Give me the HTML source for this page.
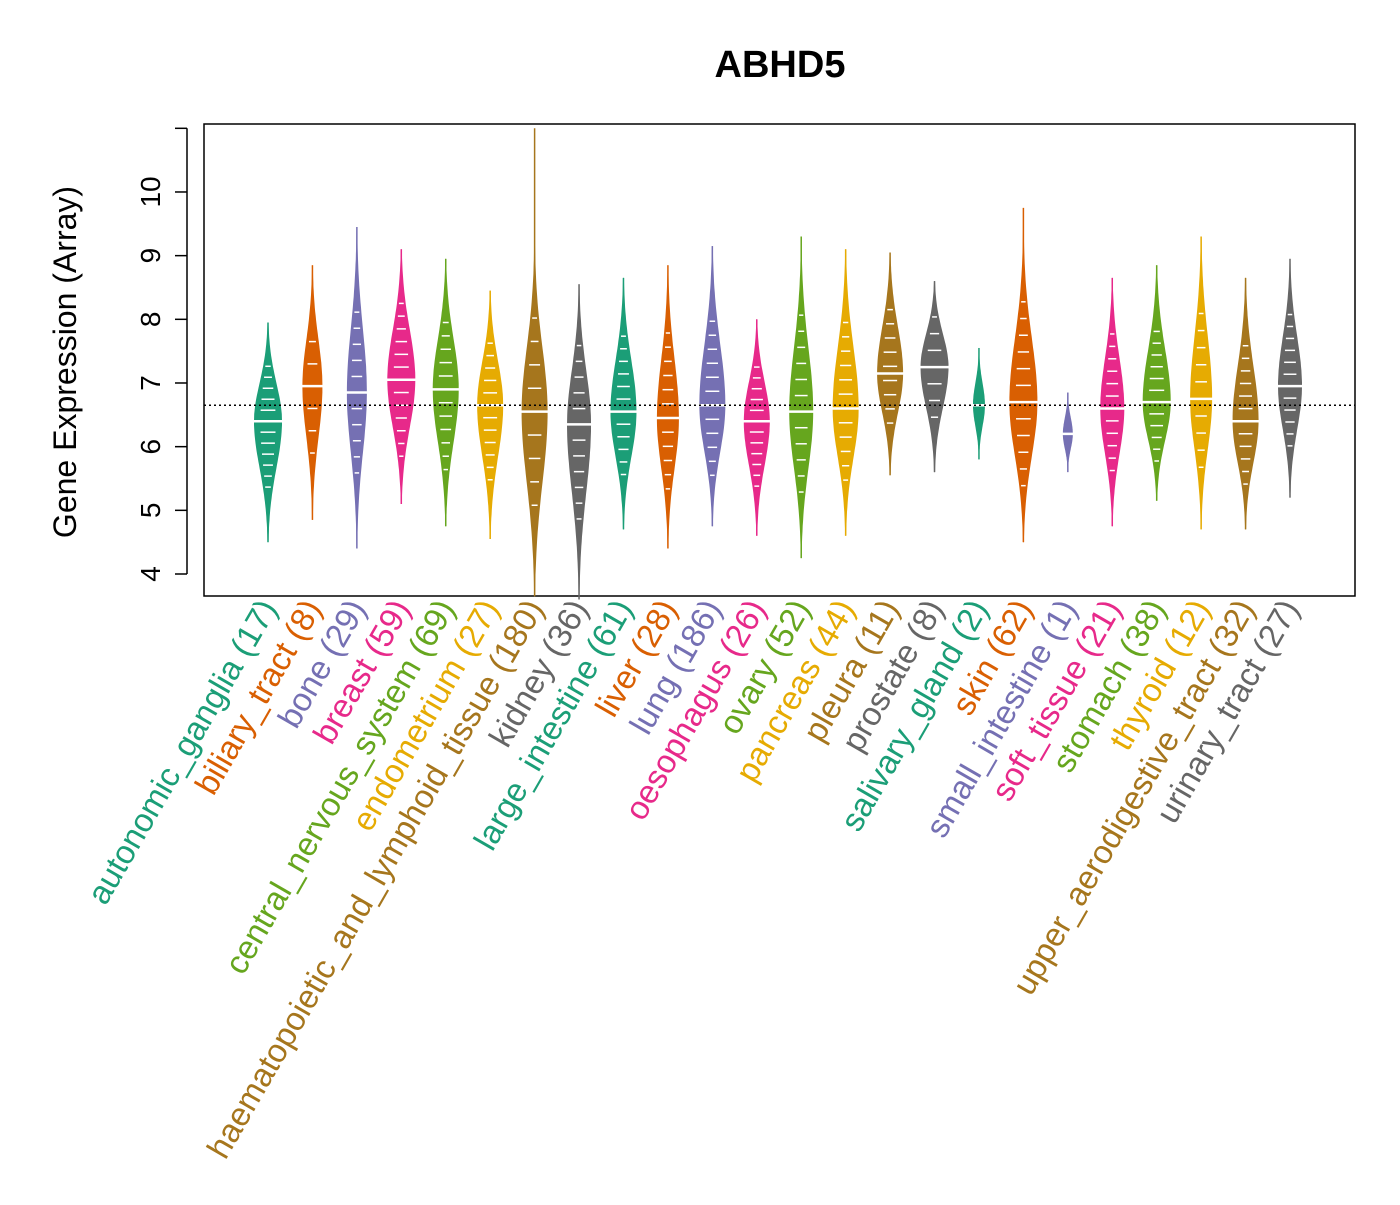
<!DOCTYPE html>
<html><head><meta charset="utf-8"><style>
body{margin:0;background:#fff}
svg{font-family:"Liberation Sans",Arial,sans-serif}
</style></head><body>
<svg id="chart" width="1400" height="1200" viewBox="0 0 1400 1200" xmlns="http://www.w3.org/2000/svg">
<rect width="1400" height="1200" fill="#fff"/>
<text x="780" y="77" font-size="38" font-weight="bold" text-anchor="middle">ABHD5</text>
<text transform="translate(76,362) rotate(-90)" font-size="32" text-anchor="middle">Gene Expression (Array)</text>
<rect x="204" y="124" width="1151" height="472" fill="none" stroke="#000" stroke-width="1.5"/>
<g id="yaxis"></g>
<g id="beans"></g>
<g id="xlabels"></g>
</svg>
<script>
const categories=["autonomic_ganglia","biliary_tract","bone","breast","central_nervous_system","endometrium","haematopoietic_and_lymphoid_tissue","kidney","large_intestine","liver","lung","oesophagus","ovary","pancreas","pleura","prostate","salivary_gland","skin","small_intestine","soft_tissue","stomach","thyroid","upper_aerodigestive_tract","urinary_tract"];
const counts=[17,8,29,59,69,27,180,36,61,28,186,26,52,44,11,8,2,62,1,21,38,12,32,27];
const mins=[4.5,4.85,4.4,5.1,4.75,4.55,3.65,3.6,4.7,4.4,4.75,4.6,4.25,4.6,5.55,5.6,5.8,4.5,5.6,4.75,5.15,4.7,4.7,5.2];
const maxs=[7.95,8.85,9.45,9.1,8.95,8.45,11.0,8.55,8.65,8.85,9.15,8.0,9.3,9.1,9.05,8.6,7.55,9.75,6.85,8.65,8.85,9.3,8.65,8.95];
const medians=[6.4,6.95,6.85,7.05,6.9,6.65,6.55,6.35,6.55,6.45,6.65,6.4,6.55,6.6,7.15,7.25,6.65,6.7,6.2,6.6,6.7,6.75,6.4,6.95];
const widths=[14,10,10,14,13,13,13,12,13,11,13,13,12,13,13,14,6,14,5,12,14,11,13,12];
const overall=6.65;
const yTicks=[4,5,6,7,8,9,10];
const colors=["#1B9E77","#D95F02","#7570B3","#E7298A","#66A61E","#E6AB02","#A6761D","#666666"];
const NS="http://www.w3.org/2000/svg";
const yS=v=>574-(v-4)*63.67;
const xS=i=>268+i*(1290-268)/(categories.length-1);
function mk(t,a,p){const e=document.createElementNS(NS,t);for(const k in a)e.setAttribute(k,a[k]);p.appendChild(e);return e;}
const ya=document.getElementById('yaxis');
mk('line',{x1:187,x2:187,y1:yS(4),y2:yS(11),stroke:'#000','stroke-width':1.5},ya);
mk('line',{x1:175,x2:187,y1:yS(11),y2:yS(11),stroke:'#000','stroke-width':1.5},ya);
yTicks.forEach(t=>{
  const tk=mk('line',{x1:175,x2:187,y1:yS(t),y2:yS(t),stroke:'#000','stroke-width':1.5},ya);
  
  
  const tx=mk('text',{transform:`translate(160,${yS(t)}) rotate(-90)`,'font-size':28,'text-anchor':'middle'},ya);
  tx.textContent=t;
  
  
});
const bg=document.getElementById('beans');
const xl=document.getElementById('xlabels');
categories.forEach((c,i)=>{
  const col=colors[i%8],x=xS(i),lo=mins[i],hi=maxs[i],m=medians[i],w=widths[i];
  const g=mk('g',{},bg);
  
  
  mk('line',{x1:x,x2:x,y1:yS(lo),y2:yS(hi),stroke:col,'stroke-width':1.5},g);
  const sL=(m-lo)/2.6,sH=(Math.min(hi,m+2.6)-m)/2.6;
  const N=60,pts=[],ptsL=[];
  for(let k=0;k<=N;k++){
    const v=lo+(Math.min(hi,10.4)-lo)*k/N;
    const s=v<m?sL:sH;
    const f=w*Math.exp(-0.5*((v-m)/s)**2);
    pts.push([x+f,yS(v)]);ptsL.push([x-f,yS(v)]);
  }
  const d='M'+pts.map(p=>p[0].toFixed(1)+','+p[1].toFixed(1)).join('L')+'L'+ptsL.reverse().map(p=>p[0].toFixed(1)+','+p[1].toFixed(1)).join('L')+'Z';
  mk('path',{d,fill:col,stroke:'none'},g);
  const steps=Math.min(counts[i],14);
  for(let k=1;k<steps;k++){
    const v=m+((k/steps)-0.5)*(hi-lo)*0.7;
    const s=v<m?sL:sH,f=w*Math.exp(-0.5*((v-m)/s)**2)*0.55;
    if(f>2)mk('line',{x1:x-f,x2:x+f,y1:yS(v),y2:yS(v),stroke:'#fff','stroke-width':1.5},g);
  }
  const ml=mk('line',{x1:x-w-4,x2:x+w+4,y1:yS(m),y2:yS(m),stroke:'#fff','stroke-width':2.5},g);
  
  
  const t=mk('text',{transform:`translate(${x+10},608) rotate(-60)`,'font-size':33,'text-anchor':'end',fill:col},xl);
  t.textContent=c+' ('+counts[i]+')';
  
  
});
const ol=mk('line',{x1:204,x2:1355,y1:yS(overall),y2:yS(overall),stroke:'#000','stroke-width':1.5,'stroke-dasharray':'2,3'},document.getElementById('chart'));


</script>
</body></html>
